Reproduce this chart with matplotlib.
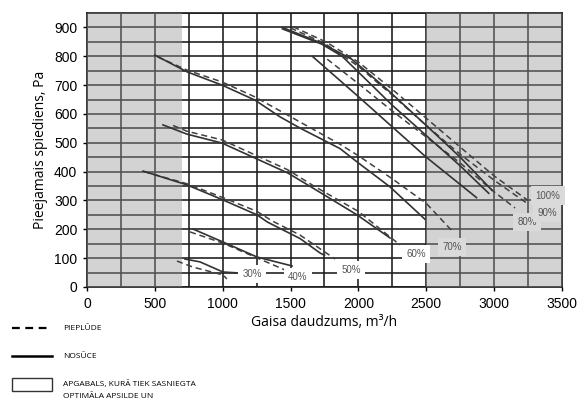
import matplotlib
matplotlib.use("Agg")
import matplotlib.pyplot as plt
from matplotlib.lines import Line2D
from matplotlib.patches import Rectangle
import numpy as np

plt.rcParams['font.family'] = ['Liberation Sans', 'DejaVu Sans']

# fan curves: pieplude (supply, dashed) and nosuce (extract, solid)
speeds = ['30%', '40%', '50%', '60%', '70%', '80%', '90%', '100%']

supply_x = [
    [663, 781, 1002, 1031],
    [759, 1002, 1238, 1459],
    [420, 737, 1002, 1253, 1361, 1570, 1828],
    [634, 737, 995, 1238, 1481, 1665, 2000, 2306],
    [520, 737, 995, 1238, 1570, 1864, 2000, 2250, 2500, 2697],
    [1770, 2000, 2250, 2500, 2750, 3000, 3154],
    [1500, 1750, 2000, 2250, 2500, 2750, 3000, 3240],
    [1520, 1760, 2000, 2250, 2500, 2750, 3000, 3250],
]
supply_y = [
    [90, 69, 42, 28],
    [191, 152, 104, 59],
    [400, 358, 310, 262, 230, 180, 97],
    [560, 540, 510, 458, 406, 352, 262, 146],
    [798, 752, 711, 659, 572, 495, 455, 375, 290, 191],
    [790, 705, 610, 520, 430, 330, 274],
    [898, 845, 765, 665, 560, 460, 370, 291],
    [902, 850, 780, 685, 585, 485, 385, 300],
]

extract_x = [
    [722, 833, 1002, 1105],
    [781, 1002, 1253, 1511],
    [413, 737, 1002, 1253, 1330, 1570, 1717, 1750],
    [560, 737, 995, 1238, 1481, 1665, 1990, 2233],
    [500, 737, 995, 1238, 1422, 1570, 1864, 2000, 2233, 2490],
    [1660, 2000, 2250, 2500, 2870],
    [1440, 1730, 1880, 2000, 2250, 2500, 2750, 2960],
    [1440, 1730, 1950, 2200, 2500, 2750, 2985],
]
extract_y = [
    [97, 87, 52, 49],
    [201, 156, 104, 73],
    [402, 354, 302, 250, 225, 168, 118, 110],
    [562, 530, 499, 447, 395, 343, 250, 170],
    [804, 746, 700, 648, 590, 551, 480, 430, 347, 235],
    [800, 660, 555, 450, 310],
    [895, 842, 800, 745, 630, 525, 420, 325],
    [900, 845, 790, 690, 560, 450, 335],
]

label_x = [1216, 1555, 1945, 2425, 2690, 3242, 3390, 3398]
label_y = [45, 35, 59, 114, 139, 225, 257, 316]

fig = plt.figure(figsize=(5.81, 4.0), dpi=100)
ax = fig.add_axes([0.1497, 0.2825, 0.8176, 0.685])

ax.set_xlim(0, 3500)
ax.set_ylim(0, 950)
ax.set_xticks(np.arange(0, 3501, 500))
ax.set_yticks(np.arange(0, 901, 100))
ax.set_xticks(np.arange(0, 3501, 250), minor=True)
ax.set_yticks(np.arange(0, 951, 50), minor=True)
ax.set_axisbelow(True)
ax.grid(which='both', color='#1a1a1a', linewidth=1.15)
ax.tick_params(which='minor', length=0)
ax.tick_params(which='major', length=3, width=1, labelsize=10, direction='out', pad=4)

for s in ax.spines.values():
    s.set_linewidth(1.2)
    s.set_color('#1a1a1a')
    s.set_zorder(0.6)

# grey areas outside the optimal range
ax.axvspan(0, 700, color=(0.6, 0.6, 0.6), alpha=0.43, lw=0, zorder=1)
ax.axvspan(2500, 3500, color=(0.6, 0.6, 0.6), alpha=0.43, lw=0, zorder=1)

for i, sp in enumerate(speeds):
    ax.plot(supply_x[i], supply_y[i], color='#404040', lw=1.1, ls=(0, (4, 2.5)), zorder=2)
    ax.plot(extract_x[i], extract_y[i], color='#333333', lw=1.2, zorder=2)
    fc = 'white' if label_x[i] < 2500 else '#dadada'
    ax.text(label_x[i], label_y[i], sp, fontsize=7, color='#555555', ha='center', va='center',
            zorder=3, bbox=dict(boxstyle='square,pad=0.45', fc=fc, ec='none'))

ax.set_xlabel('Gaisa daudzums, m³/h', fontsize=10, family=['Open Sans', 'DejaVu Sans'], labelpad=3)
ax.set_ylabel('Pieejamais spiediens, Pa', fontsize=10, family=['Open Sans', 'DejaVu Sans'], labelpad=4)

# legend below the chart
lf = ['Open Sans', 'DejaVu Sans']
fig.add_artist(Line2D([12 / 581, 52 / 581], [1 - 328 / 400] * 2, color='black', lw=1.6, ls=(0, (3.5, 2.5))))
fig.text(63 / 581, 1 - 328 / 400, 'PIEPLŪDE', fontsize=6, va='center', family=lf)
fig.add_artist(Line2D([12 / 581, 52 / 581], [1 - 356 / 400] * 2, color='black', lw=1.8))
fig.text(63 / 581, 1 - 356 / 400, 'NOSŪCE', fontsize=6, va='center', family=lf)
fig.add_artist(Rectangle((12 / 581, 1 - 391 / 400), 40 / 581, 13 / 400, transform=fig.transFigure,
                         fc='white', ec='#333333', lw=1))
fig.text(63 / 581, 1 - 384 / 400, 'APGABALS, KURĀ TIEK SASNIEGTA', fontsize=6, va='center', family=lf)
fig.text(63 / 581, 1 - 396 / 400, 'OPTIMĀLA APSILDE UN', fontsize=6, va='center', family=lf)

fig.savefig('out.png', dpi=100)
